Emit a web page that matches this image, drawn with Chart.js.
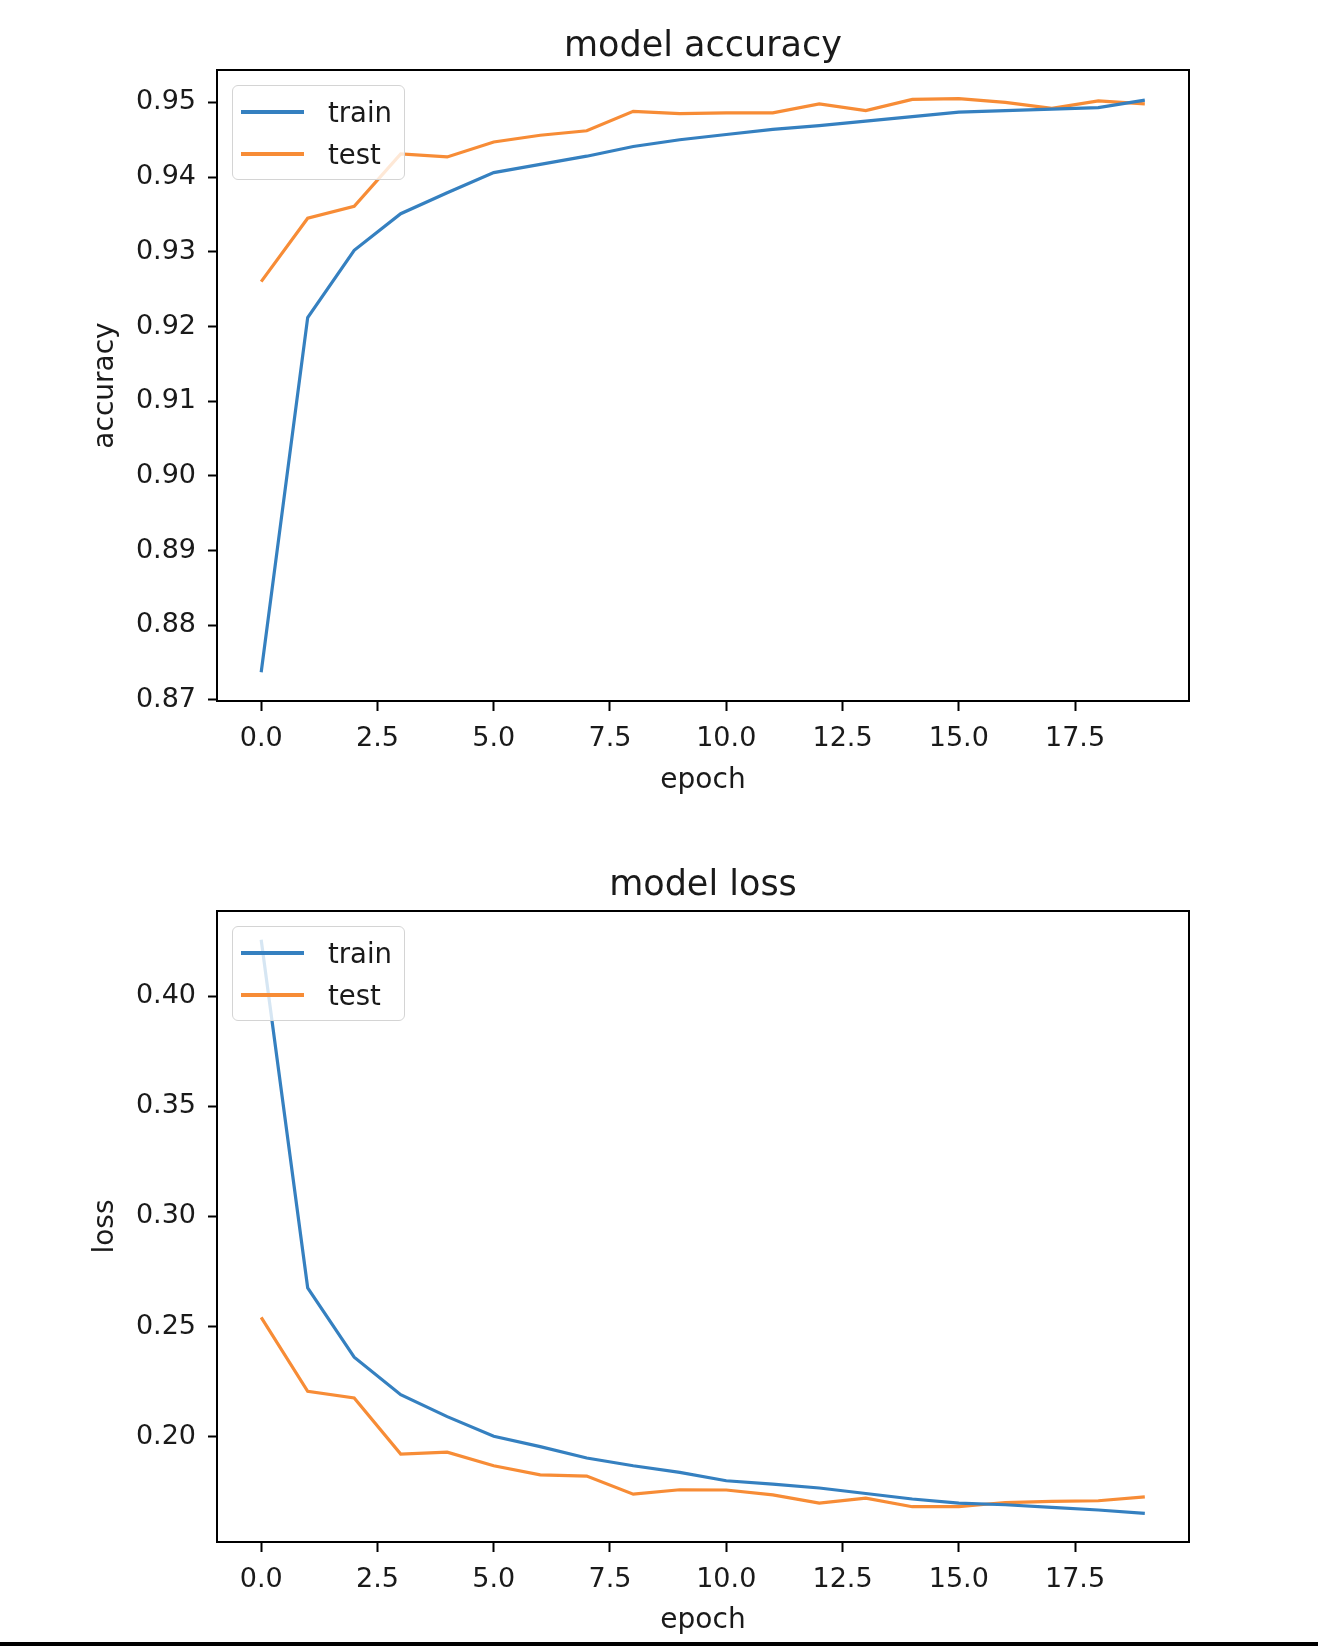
<!DOCTYPE html>
<html>
<head>
<meta charset="utf-8">
<script src="https://cdn.jsdelivr.net/npm/chart.js@4/dist/chart.umd.min.js"></script>
<style>
  html, body { margin: 0; padding: 0; background: #fff; }
  body { width: 1318px; height: 1646px; position: relative; overflow: hidden; font-family: 'DejaVu Sans', sans-serif; }
  .panel { position: absolute; left: 0; width: 1318px; height: 823px; }
  .legend {
    position: absolute; width: 171px; height: 93px;
    border: 1px solid #d4d4d4; border-radius: 6px; background: rgba(255,255,255,0.8);
    font-size: 27.5px; color: #1a1a1a;
  }
  .legend .row { position: absolute; left: 0; height: 34px; }
  .legend .swatch { position: absolute; left: 8px; top: 15px; width: 63px; height: 4px; }
  .legend .lbl { position: absolute; left: 95px; top: 0; line-height: 34px; white-space: nowrap; }
  .bottom-bar { position: absolute; left: 0; bottom: 0; width: 1318px; height: 4px; background: #000; }
</style>
</head>
<body>
<div class="panel" style="top:0"><canvas id="acc"></canvas></div>
<div class="panel" style="top:823px"><canvas id="loss"></canvas></div>
<div class="bottom-bar"></div>

<script>
const epochs = [0, 1, 2, 3, 4, 5, 6, 7, 8, 9, 10, 11, 12, 13, 14, 15, 16, 17, 18, 19];

const trainAcc = [0.8737, 0.9212, 0.9302, 0.9351, 0.9379, 0.9406, 0.9417, 0.9428, 0.9441, 0.9450,
                  0.9457, 0.9464, 0.9469, 0.9475, 0.9481, 0.9487, 0.9489, 0.9491, 0.9493, 0.9503];
const testAcc  = [0.9260, 0.9345, 0.9361, 0.9431, 0.9427, 0.9447, 0.9456, 0.9462, 0.9488, 0.9485,
                  0.9486, 0.9486, 0.9498, 0.9489, 0.9504, 0.9505, 0.9500, 0.9492, 0.9502, 0.9498];

const trainLoss = [0.4257, 0.2676, 0.2361, 0.2191, 0.2091, 0.2002, 0.1955, 0.1903, 0.1868, 0.1838,
                   0.1800, 0.1785, 0.1767, 0.1742, 0.1717, 0.1698, 0.1691, 0.1679, 0.1667, 0.1652];
const testLoss  = [0.2542, 0.2206, 0.2176, 0.1921, 0.1930, 0.1868, 0.1827, 0.1821, 0.1739, 0.1759,
                   0.1758, 0.1736, 0.1698, 0.1721, 0.1682, 0.1682, 0.1701, 0.1706, 0.1709, 0.1727];

const xTicks = [0, 2.5, 5, 7.5, 10, 12.5, 15, 17.5];
const accTicks = [0.87, 0.88, 0.89, 0.90, 0.91, 0.92, 0.93, 0.94, 0.95];
const lossTicks = [0.20, 0.25, 0.30, 0.35, 0.40];

const seriesNames = ['train', 'test'];
const seriesColors = ['#3580c0', '#f78c36'];

const FONT = "'DejaVu Sans', sans-serif";
const TEXT = '#1a1a1a';

// matplotlib style 5% margins around the data
function limits(arrs) {
  const all = [].concat(...arrs);
  const lo = Math.min(...all), hi = Math.max(...all);
  const m = (hi - lo) * 0.05;
  return [lo - m, hi + m];
}

const framePlugin = {
  id: 'frame',
  afterDraw(chart) {
    const { ctx, chartArea: a } = chart;
    ctx.save();
    ctx.strokeStyle = '#000';
    ctx.lineWidth = 2;
    ctx.strokeRect(a.left, a.top, a.right - a.left, a.bottom - a.top);
    ctx.restore();
  }
};

function makeLegend(top) {
  const box = document.createElement('div');
  box.className = 'legend';
  box.style.left = '232px';
  box.style.top = top + 'px';
  seriesNames.forEach((name, i) => {
    const row = document.createElement('div');
    row.className = 'row';
    row.style.top = (9 + i * 42) + 'px';
    row.innerHTML = `<div class="swatch" style="background:${seriesColors[i]}"></div><div class="lbl">${name}</div>`;
    box.appendChild(row);
  });
  document.body.appendChild(box);
}

function drawPanel(id, title, yLabel, train, test, yTicks, cfg) {
  const [xMin, xMax] = limits([epochs]);
  const [yMin, yMax] = limits([train, test]);
  new Chart(document.getElementById(id), {
    type: 'line',
    data: {
      datasets: [train, test].map((vals, i) => ({
        label: seriesNames[i],
        data: epochs.map((e, j) => ({ x: e, y: vals[j] })),
        borderColor: seriesColors[i],
        borderWidth: 3.2,
        pointRadius: 0,
        tension: 0,
        fill: false
      }))
    },
    options: {
      responsive: true, maintainAspectRatio: false, animation: false, devicePixelRatio: 1,
      layout: { padding: { left: 0, right: 129, top: 0, bottom: cfg.padBottom } },
      plugins: { legend: { display: false }, tooltip: { enabled: false } },
      scales: {
        x: {
          type: 'linear', min: xMin, max: xMax,
          afterBuildTicks: s => { s.ticks = xTicks.map(v => ({ value: v })); },
          afterFit: s => { s.height = cfg.xHeight; },
          grid: { drawOnChartArea: false, drawTicks: true, tickLength: 10, tickWidth: 2, tickColor: '#000' },
          border: { display: false },
          ticks: { color: TEXT, padding: 12, maxRotation: 0, font: { family: FONT, size: 27 }, callback: v => v.toFixed(1) },
          title: { display: true, text: 'epoch', color: TEXT, font: { family: FONT, size: 28 }, padding: { top: 0, bottom: 0 } }
        },
        // top axis only carries the panel title, centred over the plot area
        top: {
          type: 'linear', position: 'top', min: xMin, max: xMax,
          afterFit: s => { s.height = cfg.areaTop; },
          grid: { display: false, drawTicks: false },
          border: { display: false },
          ticks: { display: false },
          title: { display: true, text: title, color: TEXT, font: { family: FONT, size: 35 }, padding: { top: cfg.titleTop, bottom: 0 } }
        },
        y: {
          min: yMin, max: yMax,
          afterBuildTicks: s => { s.ticks = yTicks.map(v => ({ value: v })); },
          afterFit: s => { s.width = 217; },
          grid: { drawOnChartArea: false, drawTicks: true, tickLength: 9, tickWidth: 2, tickColor: '#000' },
          border: { display: false },
          ticks: { color: TEXT, padding: 12, font: { family: FONT, size: 27 }, callback: v => v.toFixed(2) },
          title: { display: true, text: yLabel, color: TEXT, font: { family: FONT, size: 28 }, padding: { top: 89, bottom: 0 } }
        }
      }
    },
    plugins: [framePlugin]
  });
}

drawPanel('acc', 'model accuracy', 'accuracy', trainAcc, testAcc, accTicks,
  { areaTop: 70, titleTop: 26, xHeight: 96.5, padBottom: 25.5 });
drawPanel('loss', 'model loss', 'loss', trainLoss, testLoss, lossTicks,
  { areaTop: 88, titleTop: 42, xHeight: 95.5, padBottom: 8.5 });

makeLegend(85);
makeLegend(926);
</script>
</body>
</html>
